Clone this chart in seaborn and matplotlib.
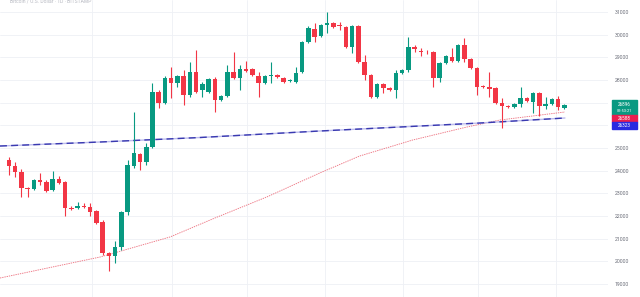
import numpy as np
import pandas as pd
import matplotlib
matplotlib.use("Agg")
import matplotlib.pyplot as plt
import seaborn as sns
from matplotlib.patches import Rectangle

# ---- data (daily candles) ----
opens = [24470, 24205, 23940, 23234, 23190, 23587, 23499, 23146, 23632, 23499,
         22352, 22352, 22440, 22396, 22220, 21734, 20367, 20234, 20631, 22176,
         24205, 24735, 24382, 25043, 27470, 26985, 28088, 27867, 28176, 27338,
         28352, 27558, 27470, 28044, 27117, 27293, 28352, 28088, 28485, 28485,
         28176, 27867, 28198, 28220, 28088, 27955, 27911, 28352, 29676, 30250,
         29941, 30426, 30514, 30426, 30338, 29455, 30382, 28794, 28220, 27249,
         27823, 27646, 27558, 28308, 28441, 29455, 29279, 29235, 29235, 28088,
         28749, 29014, 28838, 29544, 28926, 28529, 27735, 27691, 27646, 26985,
         26852, 26808, 26941, 27205, 27029, 27426, 26852, 26941, 27161, 26764]
highs = [24602, 24382, 24073, 23279, 23632, 23896, 23587, 23984, 23764, 23543,
         22440, 22617, 22573, 22573, 22264, 21823, 20411, 20896, 22220, 24470,
         26588, 24779, 25220, 27867, 27558, 28176, 28573, 28220, 28441, 28794,
         29323, 27911, 28088, 28132, 27338, 28661, 29235, 28661, 28838, 28529,
         28352, 28220, 28794, 28264, 28132, 28044, 28573, 29720, 30382, 30514,
         30470, 31000, 30558, 30558, 30382, 30426, 30426, 29103, 28264, 27867,
         27867, 27691, 28441, 28485, 29897, 29544, 29411, 29323, 29279, 28794,
         29103, 29411, 29588, 29852, 28970, 28573, 27779, 28352, 27691, 27205,
         26896, 26985, 27691, 27249, 27470, 27470, 27249, 27205, 27293, 26941]
lows = [23808, 23720, 22837, 22837, 23146, 23367, 23058, 23102, 23411, 21999,
        22264, 22308, 22352, 21999, 21646, 20278, 19572, 19925, 20499, 22043,
        24117, 24029, 24249, 24999, 26764, 26941, 27205, 27691, 26900, 27249,
        27426, 27249, 27426, 26588, 27073, 27249, 28044, 27558, 28352, 28176,
        27249, 27823, 27867, 28088, 27867, 27911, 27867, 28308, 29632, 29676,
        29897, 30073, 30294, 30205, 29411, 29191, 28749, 27999, 27205, 27205,
        27426, 27514, 27205, 28264, 28352, 29235, 29058, 29147, 27691, 27911,
        28705, 28794, 28794, 28794, 28485, 27338, 27646, 27249, 26941, 25882,
        26764, 26764, 26808, 27029, 26543, 26411, 26720, 26896, 26676, 26720]
closes = [24205, 23940, 23234, 23190, 23587, 23499, 23102, 23632, 23455, 22352,
          22330, 22440, 22396, 22176, 21690, 20367, 20234, 20631, 22176, 24249,
          24779, 24382, 25043, 27470, 26985, 28088, 27867, 28176, 27338, 28352,
          27470, 27823, 28044, 27117, 27293, 28352, 28088, 28485, 28396, 28220,
          27867, 28176, 28220, 28132, 27911, 27999, 28308, 29676, 30294, 29897,
          30426, 30514, 30338, 30382, 29455, 30382, 28794, 28220, 27249, 27823,
          27646, 27558, 28308, 28441, 29455, 29367, 29235, 29213, 28088, 28749,
          29058, 28838, 29544, 28926, 28529, 27691, 27691, 27602, 26985, 26852,
          26808, 26941, 27205, 27073, 27426, 26852, 26941, 27161, 26808, 26896]

# moving averages, read at a few positions (candle index, price)
red_ma_idx = [-1.44, 14.6, 25.8, 33.0, 41.3, 49.8, 56.2, 64.7, 73.4, 78.7, 89.1]
red_ma_val = [19264, 20190, 21073, 21911, 22837, 23896, 24646, 25352, 25926, 26235, 26588]
blue_ma_idx = [-1.44, 14.6, 30.6, 49.8, 75.5, 89.1]
blue_ma_val = [25087, 25264, 25462, 25749, 26102, 26323]

yticks = [19000, 20000, 21000, 22000, 23000, 24000, 25000,
          26000, 27000, 28000, 29000, 30000, 31000]
# 26000 and 27000 sit behind the last-price labels on the scale
ytick_labels = ["19000", "20000", "21000", "22000", "23000", "24000", "25000",
                "", "", "28000", "29000", "30000", "31000"]
last_labels = ["26896", "09:53:21", "26588", "26323"]
header = "Bitcoin / U.S. Dollar · 1D · BITSTAMP"

GREEN = "#089981"
RED = "#f23645"

sns.set_theme(style="white")
plt.rcParams["font.family"] = ["Roboto", "DejaVu Sans"]

fig = plt.figure(figsize=(6.4, 2.97), dpi=100)
ax = fig.add_axes([0, 0, 608 / 640, 1])

df = pd.DataFrame({"o": opens, "h": highs, "l": lows, "c": closes})
df["i"] = np.arange(len(df))
up = df["c"] >= df["o"]
cols = np.where(up, GREEN, RED)

# grid
ax.set_yticks(yticks)
ax.set_yticklabels(ytick_labels)
ax.set_xticks([13.3, 26.1, 38.1, 50.6, 63.1, 75.2, 87.7])
ax.set_xticklabels([])
ax.grid(True, color="#eef0f5", lw=0.6)
ax.set_axisbelow(True)

# MA lines
sns.lineplot(x=red_ma_idx, y=red_ma_val, ax=ax, color="#e8485a", lw=0.65, alpha=0.75)
ax.lines[-1].set_dashes([1.5, 1.0])
sns.lineplot(x=blue_ma_idx, y=blue_ma_val, ax=ax, color="#bcbcee", lw=1.0)
sns.lineplot(x=blue_ma_idx, y=blue_ma_val, ax=ax, color="#3a3ab0", lw=1.0)
ax.lines[-1].set_dashes([5, 3])

# candles
ax.vlines(df["i"], df["l"], df["h"], colors=cols, lw=0.8, zorder=3)
body = (df["c"] - df["o"]).abs().clip(lower=35)
ax.bar(df["i"], body, bottom=np.minimum(df["o"], df["c"]), width=0.72,
       color=cols, linewidth=0, zorder=4)

ax.set_xlim(-1.44, 96.0)
ax.set_ylim(18426, 31529)
ax.yaxis.tick_right()
ax.tick_params(axis="y", length=0, pad=5, labelsize=3.7, labelcolor="#6a6d78")
ax.tick_params(axis="x", length=0)
for s in ax.spines.values():
    s.set_visible(False)

# price labels on the scale
def box(y0, y1, color):
    fig.patches.append(Rectangle((612 / 640, 1 - y1 / 297), 25 / 640, (y1 - y0) / 297,
                                 transform=fig.transFigure, color=color, zorder=10))

box(100, 115, GREEN)
box(115, 122, "#e91e4f")
box(122, 129, "#2a2ae0")
tx = 624.5 / 640
fig.text(tx, 1 - 104 / 297, last_labels[0], color="white", fontsize=3.3,
         ha="center", va="center", zorder=11)
fig.text(tx, 1 - 111 / 297, last_labels[1], color="white", fontsize=2.9,
         ha="center", va="center", zorder=11)
fig.text(tx, 1 - 118.5 / 297, last_labels[2], color="white", fontsize=3.3,
         ha="center", va="center", zorder=11)
fig.text(tx, 1 - 125.5 / 297, last_labels[3], color="white", fontsize=3.3,
         ha="center", va="center", zorder=11)

fig.text(10 / 640, 1 - 1 / 297, header, color="#b8bac2", fontsize=3.6,
         ha="left", va="center")

fig.savefig("out.png", dpi=100)
